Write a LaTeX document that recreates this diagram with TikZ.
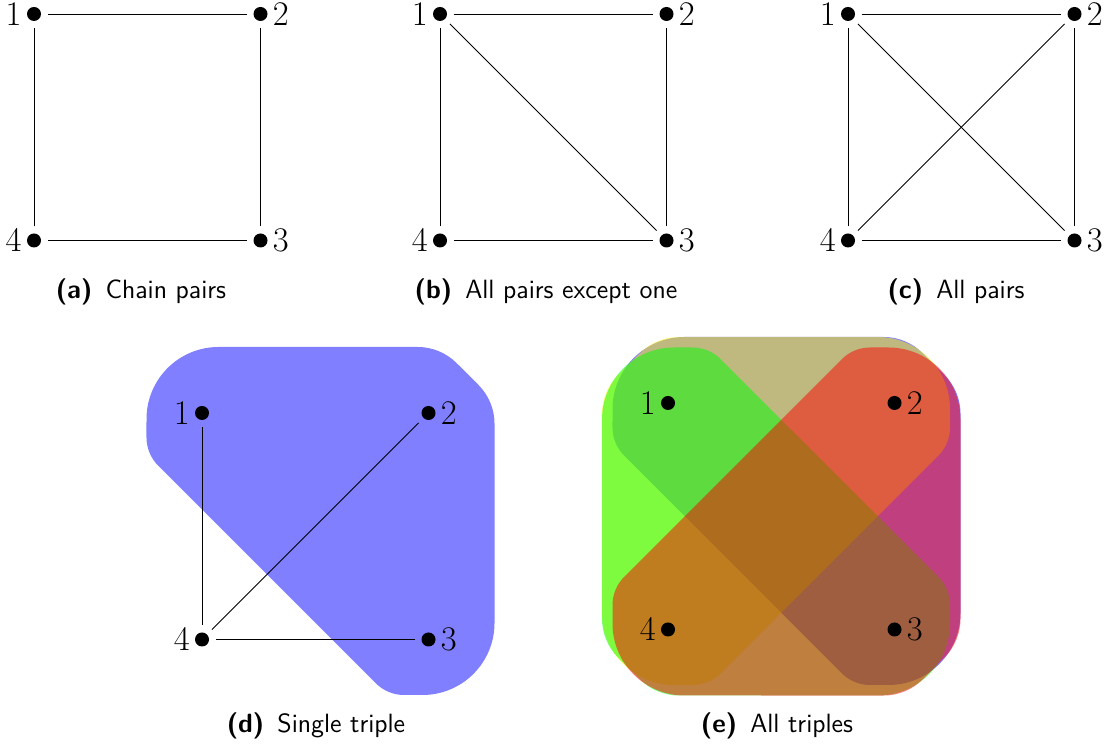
\documentclass[tikz,border=0pt]{standalone}
\usepackage{tikz}
\usetikzlibrary{positioning,backgrounds}
\tikzset{
  dot/.style  = {circle, fill=black, inner sep=0pt, minimum size=7pt,
                 outer sep=3.5pt},
  num/.style  = {inner sep=0pt, font=\fontsize{16.5}{19}\selectfont},
  subcap/.style = {font=\fontsize{13.2}{16}\selectfont\sffamily},
  hull/.style = {fill opacity=0.5},
  % hull round three vertices, middle vertex at the origin
  triple/.pic = {
    \path[pic actions] (-210,66) -- (-10.8,66)
      arc[start angle=90, end angle=45, radius=55] -- (49.9,28.1)
      arc[start angle=45, end angle=0, radius=55] -- (66,-210)
      arc[start angle=0, end angle=-90, radius=72] -- (-24.4,-282)
      arc[start angle=-90, end angle=-135, radius=40] -- (-270.3,-52.7)
      arc[start angle=225, end angle=180, radius=40] -- (-282,-6)
      arc[start angle=180, end angle=90, radius=72] -- cycle;
  }
}

\begin{document}
\begin{tikzpicture}[x=0.5pt, y=0.5pt, node distance=99.25pt, label distance=-1pt]
    \useasboundingbox (0,0) rectangle (1107,748);

    % ---- (a) chain pairs ----
    \node[dot, label={[num]left:$1$}] (a1) at (34,734) {};
    \node[dot, right=of a1, label={[num]right:$2$}] (a2) {};
    \node[dot, below=of a2, label={[num]right:$3$}] (a3) {};
    \node[dot, below=of a1, label={[num]left:$4$}] (a4) {};
    \draw (a1) -- (a2) -- (a3) -- (a4) -- (a1);
    \node[subcap] (capa) at (141,456) {\textbf{(a)}\hspace{0.5em}Chain pairs};

    % ---- (b) all pairs except one ----
    \node[dot, label={[num]left:$1$}] (b1) at (440,734) {};
    \node[dot, right=of b1, label={[num]right:$2$}] (b2) {};
    \node[dot, below=of b2, label={[num]right:$3$}] (b3) {};
    \node[dot, below=of b1, label={[num]left:$4$}] (b4) {};
    \draw (b1) -- (b2) -- (b3) -- (b4) -- (b1);
    \draw (b1) -- (b3);
    \node[subcap] (capb) at (546,456) {\textbf{(b)}\hspace{0.5em}All pairs except one};

    % ---- (c) all pairs ----
    \node[dot, label={[num]left:$1$}] (c1) at (848,734) {};
    \node[dot, right=of c1, label={[num]right:$2$}] (c2) {};
    \node[dot, below=of c2, label={[num]right:$3$}] (c3) {};
    \node[dot, below=of c1, label={[num]left:$4$}] (c4) {};
    \draw (c1) -- (c2) -- (c3) -- (c4) -- (c1);
    \draw (c1) -- (c3);
    \draw (c2) -- (c4);
    \node[subcap] (capc) at (956,456) {\textbf{(c)}\hspace{0.5em}All pairs};

    % ---- (d) single triple ----
    \node[dot, label={[num]left:$1$}] (d1) at (202,335) {};
    \node[dot, right=of d1, label={[num]right:$2$}] (d2) {};
    \node[dot, below=of d2, label={[num]right:$3$}] (d3) {};
    \node[dot, below=of d1, label={[num]left:$4$}] (d4) {};
    \draw (d1) -- (d4);
    \draw (d4) -- (d2);
    \draw (d4) -- (d3);
    \node[subcap] (capd) at (316,22) {\textbf{(d)}\hspace{0.5em}Single triple};

    % ---- (e) all triples ----
    \node[dot, label={[num]left:$1$}] (e1) at (668,345) {};
    \node[dot, right=of e1, label={[num]right:$2$}] (e2) {};
    \node[dot, below=of e2, label={[num]right:$3$}] (e3) {};
    \node[dot, below=of e1, label={[num]left:$4$}] (e4) {};
    \node[subcap] (cape) at (777,22) {\textbf{(e)}\hspace{0.5em}All triples};

    % ---- hulls ----
    \begin{scope}[on background layer]
      \pic[hull, fill=blue] at (d2) {triple};
      \pic[hull, fill=blue] at (e2) {triple};
      \pic[hull, fill=yellow, rotate=90] at (e1) {triple};
      \pic[hull, fill=green, rotate=180] at (e4) {triple};
      \pic[hull, fill=red, rotate=-90] at (e3) {triple};
    \end{scope}
\end{tikzpicture}
\end{document}
